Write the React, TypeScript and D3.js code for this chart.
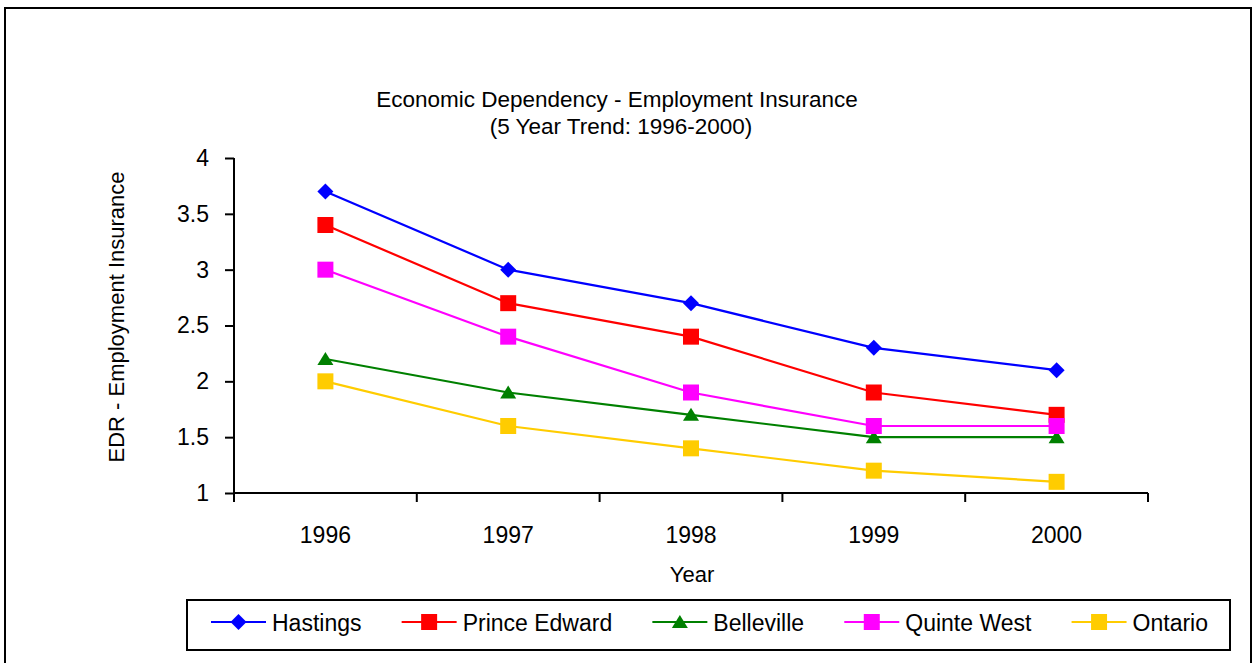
import React, { useRef, useEffect } from "react";
import * as d3 from "d3";

const YEARS = ["1996", "1997", "1998", "1999", "2000"];
const SERIES_NAMES = ["Hastings", "Prince Edward", "Belleville", "Quinte West", "Ontario"];
const HASTINGS = [3.7, 3.0, 2.7, 2.3, 2.1];
const PRINCE_EDWARD = [3.4, 2.7, 2.4, 1.9, 1.7];
const BELLEVILLE = [2.2, 1.9, 1.7, 1.5, 1.5];
const QUINTE_WEST = [3.0, 2.4, 1.9, 1.6, 1.6];
const ONTARIO = [2.0, 1.6, 1.4, 1.2, 1.1];
const Y_TICKS = [1, 1.5, 2, 2.5, 3, 3.5, 4];

const COLORS = ["#0000ff", "#ff0000", "#008000", "#ff00ff", "#ffcc00"];
const SHAPES = ["diamond", "square", "triangle", "square", "square"];

const FONT = "'Liberation Sans', Arial, sans-serif";

function markerPath(shape: string): string {
  if (shape === "diamond") return "M0,-8L8,0L0,8L-8,0Z";
  if (shape === "triangle") return "M0,-7L8,6L-8,6Z";
  return "M-8,-8H8V8H-8Z";
}

const App: React.FC = () => {
  const svgRef = useRef<SVGSVGElement | null>(null);

  useEffect(() => {
    if (!svgRef.current) return;
    const W = 1257;
    const H = 663;
    const svg = d3.select(svgRef.current);
    svg.selectAll("*").remove();
    svg.attr("width", W).attr("height", H).attr("viewBox", `0 0 ${W} ${H}`);

    const values = [HASTINGS, PRINCE_EDWARD, BELLEVILLE, QUINTE_WEST, ONTARIO];
    const series = SERIES_NAMES.map((name, i) => ({
      name,
      color: COLORS[i],
      shape: SHAPES[i],
      pts: YEARS.map((yr, j) => ({ yr, v: values[i][j] })),
    }));

    // outer frame
    svg
      .append("rect")
      .attr("x", 5)
      .attr("y", 8)
      .attr("width", 1246)
      .attr("height", 670)
      .attr("fill", "#fff")
      .attr("stroke", "#000")
      .attr("stroke-width", 2);

    const x = d3.scaleBand().domain(YEARS).range([234, 1148]);
    const y = d3.scaleLinear().domain([1, 4]).range([493, 158]);

    /* 标题 */
    const title = svg
      .append("text")
      .attr("text-anchor", "middle")
      .attr("font-family", FONT)
      .attr("font-size", 22.5)
      .attr("fill", "#000");
    title.append("tspan").attr("x", 617).attr("y", 107).text("Economic Dependency - Employment Insurance");
    title.append("tspan").attr("x", 621).attr("y", 134).text("(5 Year Trend: 1996-2000)");

    /* Y axis */
    const yAxis = d3
      .axisLeft(y)
      .tickValues(Y_TICKS)
      .tickSize(9)
      .tickPadding(16)
      .tickFormat((v) => `${v}`);
    svg
      .append("g")
      .attr("transform", `translate(${234},0)`)
      .call(yAxis)
      .call((g) => g.select(".domain").attr("stroke-width", 2).attr("d", `M0,${y(4)}V${y(1)}`))
      .call((g) => g.selectAll(".tick line").attr("stroke-width", 2))
      .call((g) =>
        g.selectAll(".tick text").attr("font-family", FONT).attr("font-size", 23).attr("fill", "#000")
      );

    /* X axis */
    const xAxisY = y(1);
    const xg = svg.append("g").attr("transform", `translate(0,${xAxisY})`);
    xg.append("path")
      .attr("d", `M${x.range()[0]},0H${x.range()[1]}`)
      .attr("stroke", "#000")
      .attr("stroke-width", 2);
    const bounds = [...YEARS.map((d) => x(d)!), x.range()[1]];
    xg.selectAll("line.xt")
      .data(bounds)
      .join("line")
      .attr("x1", (d) => d)
      .attr("x2", (d) => d)
      .attr("y1", 0)
      .attr("y2", 9)
      .attr("stroke", "#000")
      .attr("stroke-width", 2);
    xg.selectAll("text")
      .data(YEARS)
      .join("text")
      .attr("x", (d) => x(d)! + x.bandwidth() / 2)
      .attr("y", 50)
      .attr("text-anchor", "middle")
      .attr("font-family", FONT)
      .attr("font-size", 23)
      .text((d) => d);

    svg
      .append("text")
      .attr("x", 692)
      .attr("y", 582)
      .attr("text-anchor", "middle")
      .attr("font-family", FONT)
      .attr("font-size", 22)
      .text("Year");

    svg
      .append("text")
      .attr("transform", `translate(124,${317}) rotate(-90)`)
      .attr("text-anchor", "middle")
      .attr("font-family", FONT)
      .attr("font-size", 22)
      .text("EDR - Employment Insurance");

    /* 折线 */
    const line = d3
      .line<{ yr: string; v: number }>()
      .x((d) => x(d.yr)! + x.bandwidth() / 2)
      .y((d) => y(d.v));

    series.forEach((s) => {
      svg
        .append("path")
        .attr("d", line(s.pts)!)
        .attr("fill", "none")
        .attr("stroke", s.color)
        .attr("stroke-width", 2.2);
      svg
        .append("g")
        .selectAll("path")
        .data(s.pts)
        .join("path")
        .attr("transform", (d) => `translate(${x(d.yr)! + x.bandwidth() / 2},${y(d.v)})`)
        .attr("d", markerPath(s.shape))
        .attr("fill", s.color);
    });

    /* Legend */
    const lg = svg.append("g");
    lg.append("rect")
      .attr("x", 187)
      .attr("y", 600)
      .attr("width", 1043)
      .attr("height", 50)
      .attr("fill", "#fff")
      .attr("stroke", "#000")
      .attr("stroke-width", 2);
    const ly = 622;
    const legStart = 211;
    const legEnd = 1208;
    const items = series.map((s) => {
      const g = lg.append("g");
      g.append("line")
        .attr("x1", 0)
        .attr("x2", 55)
        .attr("y1", ly)
        .attr("y2", ly)
        .attr("stroke", s.color)
        .attr("stroke-width", 2.2);
      g.append("path")
        .attr("transform", `translate(27.5,${ly})`)
        .attr("d", markerPath(s.shape))
        .attr("fill", s.color);
      const t = g
        .append("text")
        .attr("x", 61)
        .attr("y", ly + 9)
        .attr("font-family", FONT)
        .attr("font-size", 23)
        .text(s.name);
      const tw = (t.node() as SVGTextElement).getComputedTextLength();
      return { g, w: 61 + tw };
    });
    const total = d3.sum(items, (d) => d.w);
    const gap = (legEnd - legStart - total) / (items.length - 1);
    let cx = legStart;
    items.forEach((it) => {
      it.g.attr("transform", `translate(${cx},0)`);
      cx += it.w + gap;
    });
  }, []);

  return (
    <div style={{ position: "absolute", left: 0, top: 0 }}>
      <svg ref={svgRef} style={{ display: "block" }} />
    </div>
  );
};

export default App;
